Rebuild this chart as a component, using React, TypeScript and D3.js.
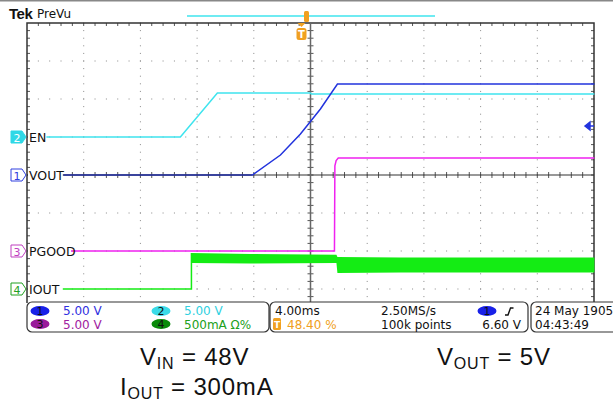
import * as d3 from "d3";

// scope settings
const msPerDiv = 4;
const triggerPct = 48.4;

// CH2 EN (V), 5 V/div
const enT = [-18.06, -8.54, -5.93, 0.63, 0.7, 20.67];
const enV = [0, 0, 5.79, 5.79, 5.66, 5.66];
// CH1 VOUT (V), 5 V/div
const voutT = [-16.79, -3.46, -1.48, -0.07, 1.34, 2.54, 20.67];
const voutV = [0, 0, 2.63, 5.39, 8.68, 11.97, 11.97];
// CH3 PGOOD (V), 5 V/div
const pgoodT = [-17.14, 2.33, 2.36, 2.45, 2.6, 20.67];
const pgoodV = [0, 0, 11.2, 11.9, 12.24, 12.24];
// CH4 IOUT (mA), 500 mA/div
const ioutT = [-17.0, -7.76, -7.76];
const ioutA = [0, 0, 474];
const bandT = [-7.76, -3.6, 2.47, 2.54, 6.98, 20.67];
const bandHi = [474, 462, 452, 421, 414, 414];
const bandLo = [342, 336, 342, 210, 217, 217];

const W = 613;
const H = 404;
const L = 27, R = 594, T = 23, B = 327;

const xDiv = d3.scaleLinear([0, 10], [L, R]);
const yDiv = d3.scaleLinear([-4, 4], [B, T]);
const t0 = -(triggerPct / 100) * 10 * msPerDiv;
const x = d3.scaleLinear([t0, t0 + 10 * msPerDiv], [L, R]);

const channels = {
  ch1: { perDiv: 5, offset: 0, color: "#2233dd" },
  ch2: { perDiv: 5, offset: 1, color: "#3fe4ee" },
  ch3: { perDiv: 5, offset: -2, color: "#f022f0" },
  ch4: { perDiv: 500, offset: -3, color: "#14ec14" },
};

function yOf(ch: keyof typeof channels) {
  const c = channels[ch];
  return (v: number) => yDiv(v / c.perDiv + c.offset);
}

function trace(ch: keyof typeof channels, ts: number[], vs: number[]) {
  const y = yOf(ch);
  const line = d3.line<number>((_, i) => x(ts[i]), (v) => y(v));
  return line(vs) || undefined;
}

function Graticule() {
  const dots: JSX.Element[] = [];
  const ticks: string[] = [];
  const mx = (R - L) / 50;
  const my = (B - T) / 40;
  for (let i = 1; i < 10; i++) {
    if (i === 5) continue;
    for (let k = 0; k <= 40; k++) {
      const yy = T + k * my;
      if (yy > 302) break;
      dots.push(<rect key={`v${i}-${k}`} x={xDiv(i) - 0.5} y={yy - 0.5} width={1} height={1} />);
    }
  }
  for (let j = 1; j < 8; j++) {
    if (j === 4) continue;
    for (let k = 0; k <= 50; k++) {
      dots.push(<rect key={`h${j}-${k}`} x={L + k * mx - 0.5} y={yDiv(j - 4) - 0.5} width={1} height={1} />);
    }
  }
  for (let k = 1; k < 50; k++) {
    const xx = L + k * mx;
    ticks.push(`M${xx},${T}v3`);
    ticks.push(`M${xx},${yDiv(0) - 3}v6`);
  }
  for (let k = 1; k < 40; k++) {
    const yy = T + k * my;
    if (yy > 302) break;
    ticks.push(`M${L},${yy}h3`);
    ticks.push(`M${R},${yy}h-3`);
    ticks.push(`M${xDiv(5) - 3},${yy}h6`);
  }
  return (
    <g>
      <g fill="#8a8a8a">{dots}</g>
      <path d={ticks.join("")} stroke="#555" strokeWidth={1} fill="none" />
      <path
        d={`M${L},303V${T}H${R}V303`}
        stroke="#333"
        strokeWidth={1.5}
        fill="none"
      />
      <path d={`M${L},${yDiv(0)}H${R}`} stroke="#333" strokeWidth={1.2} />
      <path d={`M${xDiv(5)},${T}V303`} stroke="#666" strokeWidth={1.5} />
    </g>
  );
}

function Marker({ y, n, color, filled }: { y: number; n: string; color: string; filled?: boolean }) {
  return (
    <g>
      <path
        d={`M11,${y - 6}h11l4,6l-4,6h-11z`}
        fill={filled ? color : "#fff"}
        stroke={color}
        strokeWidth={1}
      />
      <text x={17} y={y + 4.5} fontSize={11} textAnchor="middle" fill={filled ? "#fff" : color} fontFamily="DejaVu Sans">
        {n}
      </text>
    </g>
  );
}

function Badge({ cx, cy, n, color }: { cx: number; cy: number; n: string; color: string }) {
  return (
    <g>
      <ellipse cx={cx} cy={cy} rx={9.5} ry={5} fill={color} />
      <text x={cx} y={cy + 4} fontSize={11} textAnchor="middle" fill="#111" fontFamily="DejaVu Sans">
        {n}
      </text>
    </g>
  );
}

export default function App() {
  const y4 = yOf("ch4");
  const band = d3
    .area<number>()
    .x((_, i) => x(bandT[i]))
    .y0((_, i) => y4(bandLo[i]))
    .y1((v) => y4(v));
  const font = "DejaVu Sans, Verdana, sans-serif";
  const labels = [
    { ch: "ch2" as const, text: "EN" },
    { ch: "ch1" as const, text: "VOUT" },
    { ch: "ch3" as const, text: "PGOOD" },
    { ch: "ch4" as const, text: "IOUT" },
  ];

  return (
    <svg width={W} height={H} style={{ position: "absolute", left: 0, top: 0, background: "#fff" }}>
      <rect width={W} height={H} fill="#fff" />
      <line x1={0} x2={W} y1={0.5} y2={0.5} stroke="#888" strokeWidth={2} />

      {/* header */}
      <text x={9} y={19} fontSize={15} fontWeight="bold" fontFamily="Liberation Sans, Arial, sans-serif" fill="#111" letterSpacing={-0.5}>
        Tek
      </text>
      <text x={37} y={18} fontSize={12} fontFamily={font} fill="#111">
        PreVu
      </text>
      <line x1={187} x2={435} y1={16} y2={16} stroke={channels.ch2.color} strokeWidth={1.5} />

      <Graticule />

      {/* traces */}
      <path d={trace("ch2", enT, enV)} stroke={channels.ch2.color} strokeWidth={1.5} fill="none" />
      <path d={trace("ch1", voutT, voutV)} stroke={channels.ch1.color} strokeWidth={1.5} fill="none" />
      <path d={`M${L},${yDiv(0)}H${x(-3.5)}`} stroke="#333" strokeWidth={1} opacity={0.6} />
      <path d={trace("ch3", pgoodT, pgoodV)} stroke={channels.ch3.color} strokeWidth={1.5} fill="none" />
      <path d={trace("ch4", ioutT, ioutA)} stroke={channels.ch4.color} strokeWidth={1.5} fill="none" />
      <path d={band(bandHi) || undefined} fill={channels.ch4.color} />

      {/* labels and ground markers */}
      {labels.map((l) => {
        const yy = yDiv(channels[l.ch].offset);
        return (
          <g key={l.text}>
            <rect x={28} y={yy - 6} width={l.text.length * 8.2 + 2} height={12} fill="#fff" />
            <text x={29} y={yy + 4.5} fontSize={12.5} fontFamily={font} fill="#111">
              {l.text}
            </text>
          </g>
        );
      })}
      <Marker y={yDiv(1)} n="2" color="#2fd8e6" filled />
      <Marker y={yDiv(0)} n="1" color="#3040e0" />
      <Marker y={yDiv(-2)} n="3" color="#c040c0" />
      <Marker y={yDiv(-3)} n="4" color="#20a020" />

      {/* trigger level and position markers */}
      <path d="M585,126l5,-4v8z M589,126h5" fill={channels.ch1.color} stroke={channels.ch1.color} strokeWidth={1.5} />
      <rect x={304} y={11} width={5} height={11} rx={1.5} fill="#f0a020" />
      <path d="M297.5,23h8l-4,4z" fill="#f0a020" />
      <rect x={296.5} y={28} width={10} height={12} rx={2.5} fill="#f0a020" />
      <text x={301.5} y={38} fontSize={10} fontWeight="bold" textAnchor="middle" fill="#fff" fontFamily={font}>
        T
      </text>

      {/* readout boxes */}
      <g fill="#fff" stroke="#333" strokeWidth={1.2}>
        <rect x={27} y={302} width={242} height={30} rx={5} />
        <rect x={270} y={302} width={258} height={30} rx={5} />
        <rect x={531} y={302} width={90} height={30} rx={5} />
      </g>
      <g fontFamily={font} fontSize={12}>
        <Badge cx={40} cy={311} n="1" color="#1820e8" />
        <Badge cx={40} cy={324} n="3" color="#9a1a9a" />
        <Badge cx={161} cy={311} n="2" color="#3adbe8" />
        <Badge cx={161} cy={324} n="4" color="#0a8a0a" />
        <text x={63} y={315} fill="#3030e0">5.00 V</text>
        <text x={63} y={329} fill="#a020a0">5.00 V</text>
        <text x={184} y={315} fill="#30d0e0">5.00 V</text>
        <text x={184} y={329} fill="#20a020">500mA Ω%</text>

        <text x={275} y={315} fill="#111">4.00ms</text>
        <rect x={273} y={318} width={8} height={12} rx={1.5} fill="#f0a020" />
        <text x={277} y={328} fontSize={9} fontWeight="bold" textAnchor="middle" fill="#fff">T</text>
        <text x={287} y={329} fill="#f0a020">48.40 %</text>
        <text x={381} y={315} fill="#111">2.50MS/s</text>
        <text x={381} y={329} fill="#111">100k points</text>
        <Badge cx={487} cy={311} n="1" color="#1820e8" />
        <path d="M505,315h3l2.5,-7h3" stroke="#111" strokeWidth={1.4} fill="none" />
        <text x={521} y={329} textAnchor="end" fill="#111">6.60 V</text>

        <text x={535} y={315} fill="#111">24 May 1905</text>
        <text x={535} y={329} fill="#111">04:43:49</text>
      </g>

      {/* annotations */}
      <g fontFamily="Liberation Sans, Arial, sans-serif" fontSize={24} fill="#111" letterSpacing={0.8}>
        <text x={140} y={365}>
          V<tspan fontSize={16} dy={4}>IN</tspan>
          <tspan dy={-4}> = 48V</tspan>
        </text>
        <text x={120} y={395}>
          I<tspan fontSize={16} dy={4}>OUT</tspan>
          <tspan dy={-4}> = 300mA</tspan>
        </text>
        <text x={437} y={365}>
          V<tspan fontSize={16} dy={4}>OUT</tspan>
          <tspan dy={-4}> = 5V</tspan>
        </text>
      </g>
    </svg>
  );
}
